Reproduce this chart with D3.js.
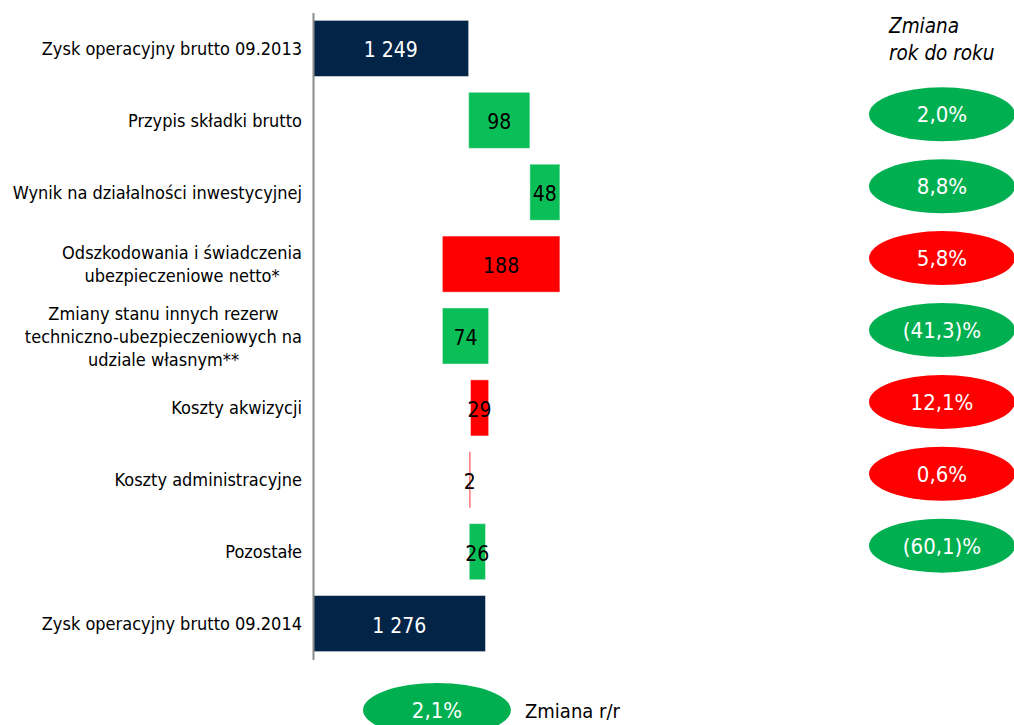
<!DOCTYPE html>
<html>
<head>
<meta charset="utf-8">
<script src="https://cdn.jsdelivr.net/npm/d3@7"></script>
<style>
  html, body { margin: 0; padding: 0; background: #fff; }
  svg { display: block; }
  text { font-family: "DejaVu Sans Condensed", "DejaVu Sans", sans-serif; font-stretch: condensed; }
</style>
</head>
<body>
<svg id="chart" width="1014" height="725"></svg>
<script>
// ---- data ----
const categories = [
  "Zysk operacyjny brutto 09.2013",
  "Przypis składki brutto",
  "Wynik na działalności inwestycyjnej",
  "Odszkodowania i świadczenia\nubezpieczeniowe netto*",
  "Zmiany stanu innych rezerw\ntechniczno-ubezpieczeniowych na\nudziale własnym**",
  "Koszty akwizycji",
  "Koszty administracyjne",
  "Pozostałe",
  "Zysk operacyjny brutto 09.2014"
];
const values = [1249, 98, 48, -188, 74, -29, -2, 26, 1276];
const kinds = ["total", "up", "up", "down", "up", "down", "down", "up", "total"];
const yoyLabels = [null, "2,0%", "8,8%", "5,8%", "(41,3)%", "12,1%", "0,6%", "(60,1)%", null];
const totalChange = "2,1%";
const headerLines = ["Zmiana", "rok do roku"];
const footerLabel = "Zmiana r/r";

// ---- styles ----
const barColors = { total: "#022447", up: "#0BBF58", down: "#FF0000" };
const ovalColors = { up: "#00B050", down: "#FF0000" };

const svg = d3.select("#chart");
const fmt = d3.formatLocale({ decimal: ",", thousands: " ", grouping: [3], currency: ["", ""] }).format(",d");

// waterfall positions
let run = 0;
const bars = categories.map((c, i) => {
  let start, end;
  if (kinds[i] === "total") { start = 1000; end = values[i]; run = values[i]; }
  else { start = run; end = run + values[i]; run = end; }
  return { cat: c, value: values[i], kind: kinds[i], lo: Math.min(start, end), hi: Math.max(start, end), yoy: yoyLabels[i] };
});

const x = d3.scaleLinear().domain([1000, 2000]).range([313, 938]);
const y = d3.scaleBand().domain(categories).range([12.5, 659.5]).paddingInner(0.22).paddingOuter(0.11);

// bars
svg.append("g").selectAll("rect").data(bars).join("rect")
  .attr("x", d => x(d.lo))
  .attr("y", d => y(d.cat))
  .attr("width", d => Math.max(1.3, x(d.hi) - x(d.lo)))
  .attr("height", y.bandwidth())
  .attr("fill", d => barColors[d.kind])
  .attr("stroke", "rgba(255,255,255,0.45)")
  .attr("stroke-width", 1);

// axis line
const axis = d3.axisLeft(y).tickSize(0).tickSizeOuter(0).tickFormat("");
svg.append("g").attr("transform", `translate(${x(1000)},0)`).call(axis)
  .call(g => g.select(".domain").attr("stroke", "#8c8c8c").attr("stroke-width", 2));

// bar values
svg.append("g").selectAll("text").data(bars).join("text")
  .attr("x", d => (x(d.lo) + x(d.hi)) / 2)
  .attr("y", d => y(d.cat) + y.bandwidth() / 2 + 9)
  .attr("text-anchor", "middle")
  .attr("font-size", 21)
  .attr("fill", d => d.kind === "total" ? "#ffffff" : "#000000")
  .text(d => fmt(Math.abs(d.value)));

// category labels (multi-line, lines centred, block right-aligned)
const lh = 23;
const labG = svg.append("g");
bars.forEach(d => {
  const lines = d.cat.split("\n");
  const t = labG.append("text").attr("text-anchor", "middle").attr("font-size", 18).attr("fill", "#000");
  const cy = y(d.cat) + y.bandwidth() / 2;
  lines.forEach((ln, k) => {
    t.append("tspan").attr("x", 0).attr("y", cy + 6.5 + (k - (lines.length - 1) / 2) * lh).text(ln);
  });
  const w = t.node().getBBox().width;
  t.attr("transform", `translate(${302 - w / 2},0)`);
});

// header
svg.append("g").selectAll("text").data(headerLines).join("text")
  .attr("x", 889).attr("y", (d, i) => 33 + i * 27)
  .attr("font-size", 20.5).attr("font-style", "italic").attr("fill", "#000")
  .text(d => d);

// yoy ovals
const ov = svg.append("g").selectAll("g").data(bars.filter(d => d.yoy)).join("g")
  .attr("transform", d => `translate(942,${y(d.cat) + y.bandwidth() / 2 - 6})`);
ov.append("ellipse").attr("rx", 73).attr("ry", 27).attr("fill", d => ovalColors[d.kind]);
ov.append("text").attr("text-anchor", "middle").attr("y", 8).attr("font-size", 22)
  .attr("fill", "#fff").text(d => d.yoy);

// footer
const ft = svg.append("g").attr("transform", "translate(437,710)");
ft.append("ellipse").attr("rx", 74).attr("ry", 27).attr("fill", ovalColors.up);
ft.append("text").attr("text-anchor", "middle").attr("y", 8).attr("font-size", 22).attr("fill", "#fff").text(totalChange);
svg.append("text").attr("x", 525).attr("y", 718).attr("font-size", 20).attr("fill", "#000").text(footerLabel);
</script>
</body>
</html>
